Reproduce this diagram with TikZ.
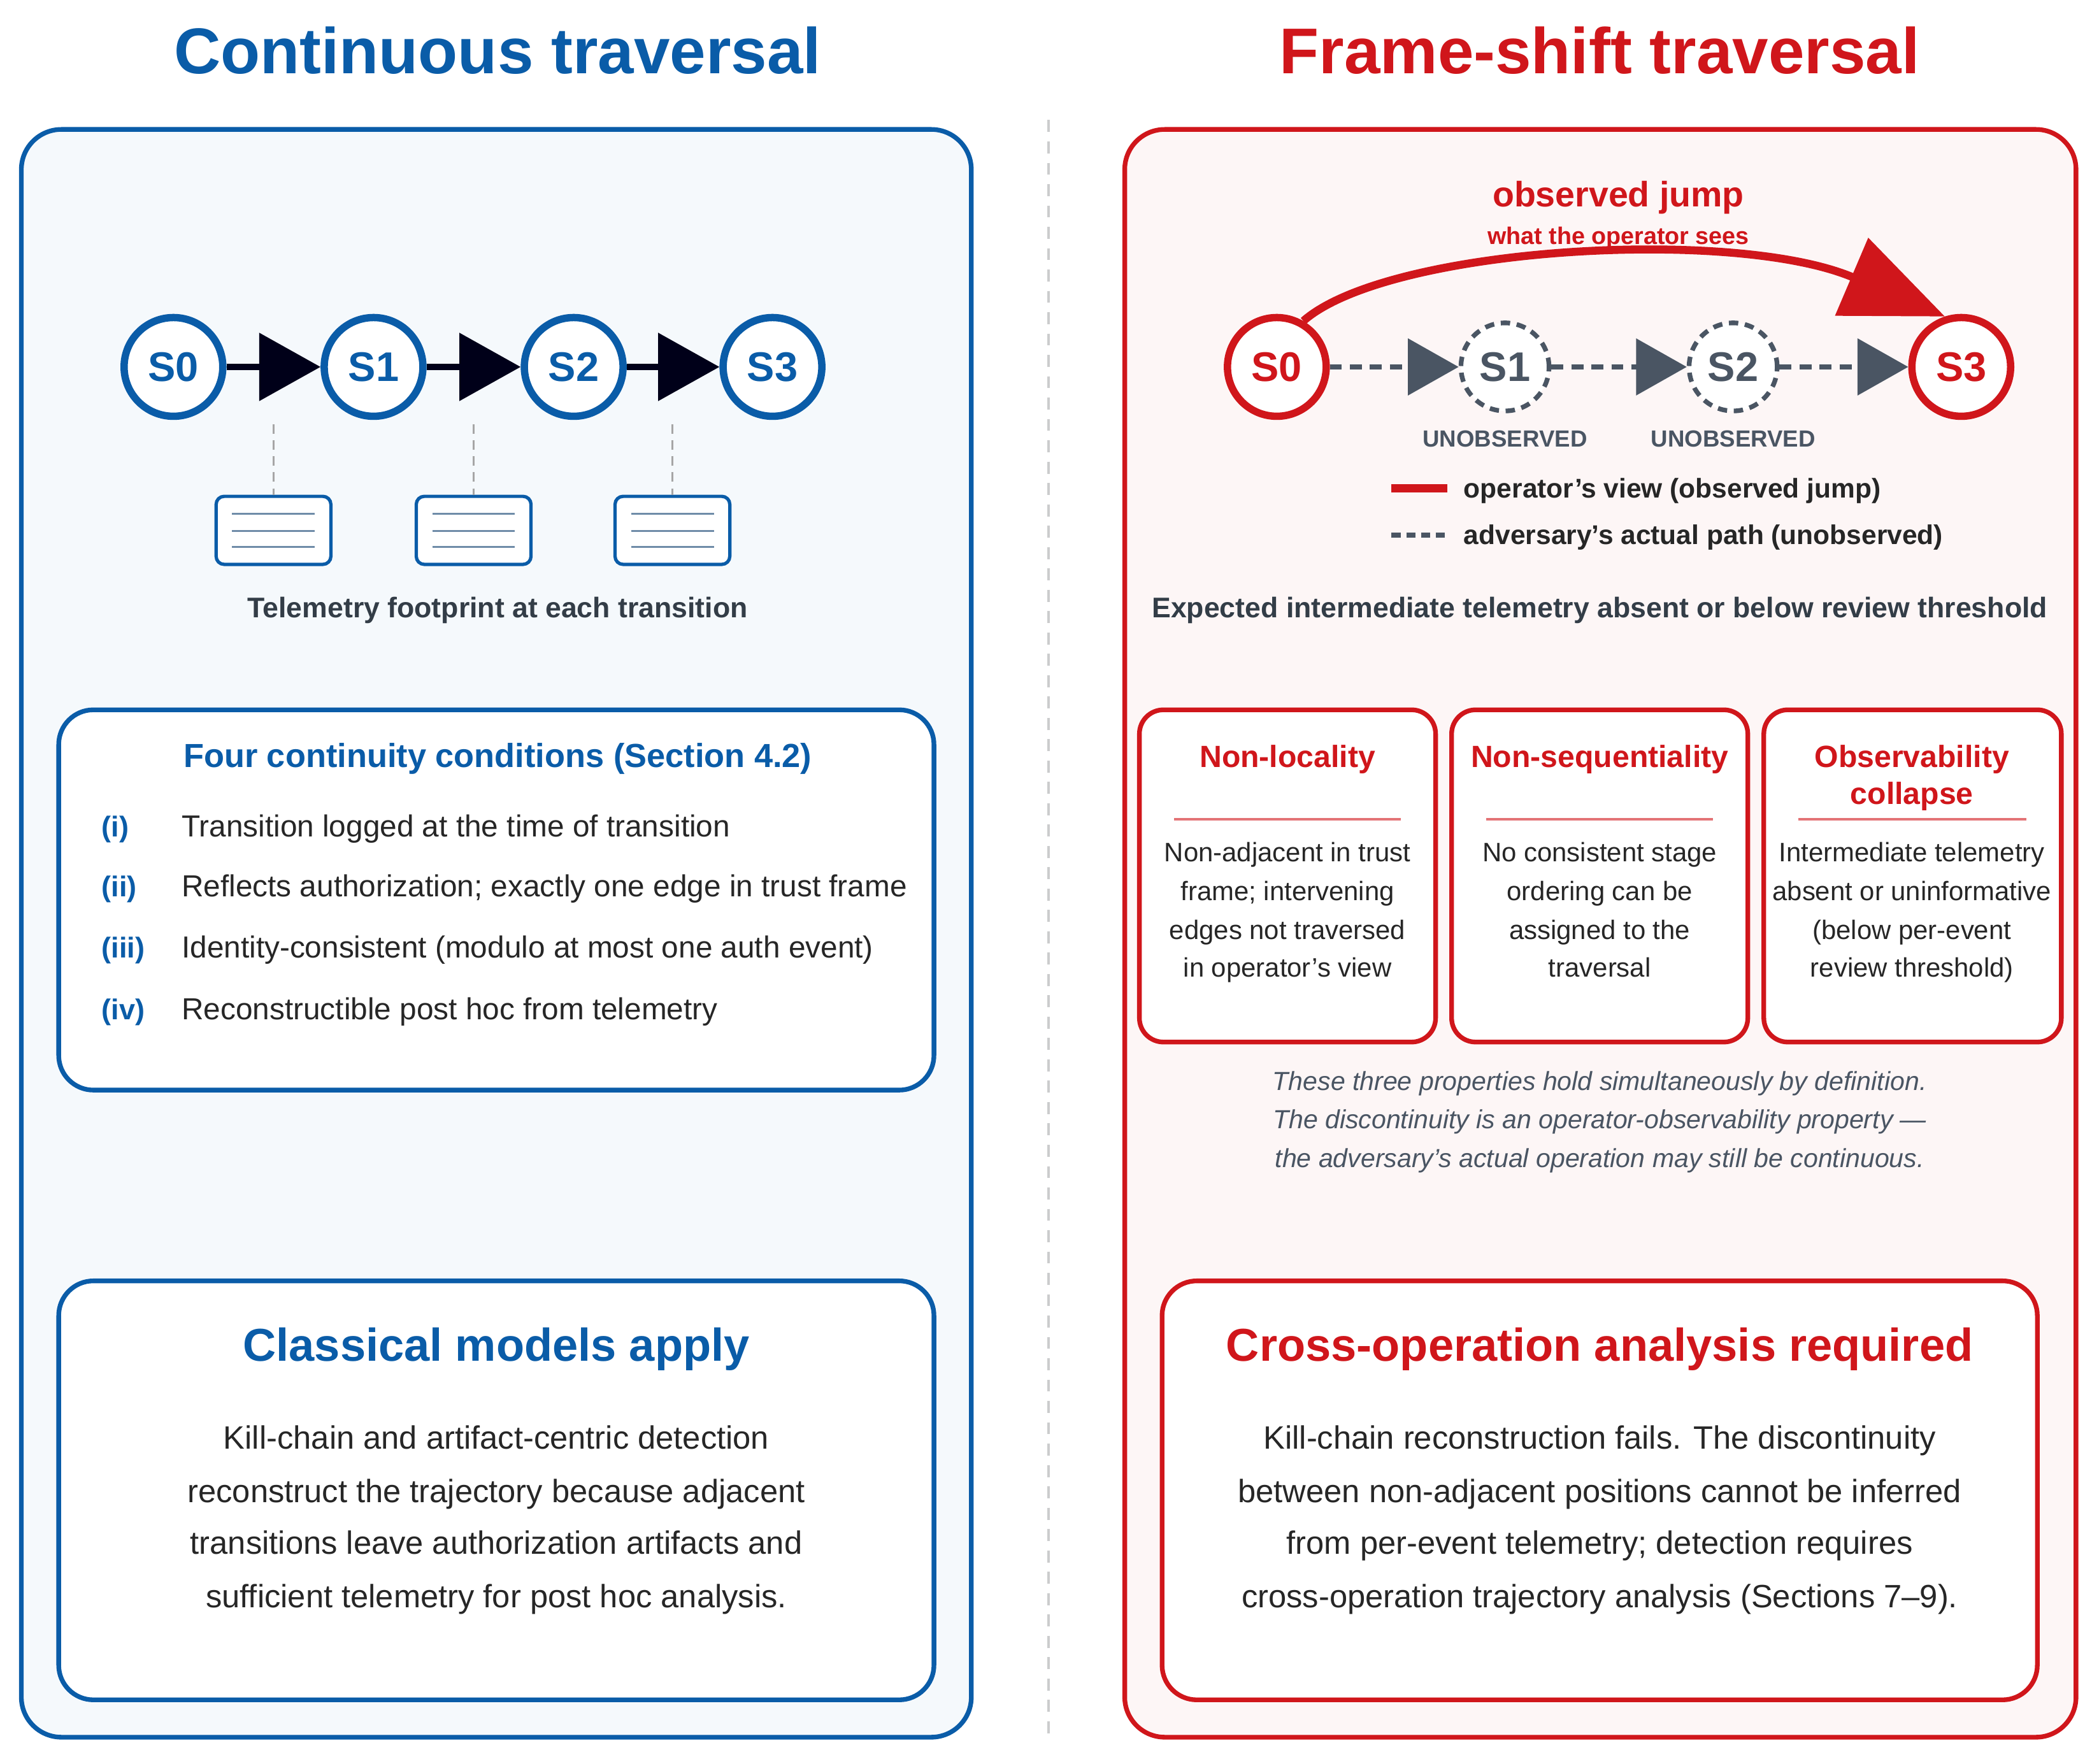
\documentclass[tikz,border=0pt]{standalone}
\usepackage{fontspec}
\setmainfont{Liberation Sans}
\usetikzlibrary{arrows.meta}
\definecolor{cblue}{HTML}{0A5CA8}
\definecolor{cred}{HTML}{D0161B}
\definecolor{dgray}{HTML}{333D47}
\definecolor{sgray}{HTML}{4A5563}
\definecolor{lblue}{HTML}{F5F9FC}
\definecolor{lred}{HTML}{FDF6F6}
\newcommand{\fs}[1]{\fontsize{#1}{#1}\selectfont}
\tikzset{
 bnode/.style={circle,draw=cblue,line width=5.5pt,fill=white,minimum size=74pt,inner sep=0,text=cblue,font=\fs{31}\bfseries},
 rnode/.style={circle,draw=cred,line width=5.5pt,fill=white,minimum size=74pt,inner sep=0,text=cred,font=\fs{31}\bfseries},
 gnode/.style={circle,draw=sgray,line width=3.5pt,dash pattern=on 7pt off 5pt,fill=white,minimum size=66pt,inner sep=0,text=sgray,font=\fs{31}\bfseries},
 barrow/.style={line width=5pt,draw=black!90!blue,-{Triangle[length=46pt,width=50pt]}},
 garrow/.style={line width=3.5pt,draw=sgray,dash pattern=on 9pt off 6pt,-{Triangle[length=38pt,width=42pt]}},
 tbox/.style={draw=cblue,line width=2.5pt,rounded corners=6pt,fill=white},
 bigbox/.style={line width=3.5pt,rounded corners=26pt,fill=white},
 card/.style={draw=cred,line width=3.5pt,rounded corners=18pt,fill=white},
 lbl/.style={inner sep=0,anchor=base},
}
\begin{document}
\begin{tikzpicture}[x=1pt,y=-1pt]
\useasboundingbox[fill=white] (0,0) rectangle (1568,1322);
% panels
\draw[cblue,line width=3.5pt,fill=lblue,rounded corners=30pt] (16,97) rectangle (728,1302);
\draw[cred,line width=3.5pt,fill=lred,rounded corners=30pt] (843,97) rectangle (1556,1302);
\draw[black!20!lblue!60!gray!60,line width=2pt,dash pattern=on 9pt off 7pt] (786,90) -- (786,1302);
% titles
\node[lbl,text=cblue,font=\fs{48.5}\bfseries] (t1) at (373,55) {Continuous traversal};
\node[lbl,text=cred,font=\fs{48.5}\bfseries] (t2) at (1199,55) {Frame-shift traversal};
% left nodes
\node[bnode] (a0) at (130,275) {S0};
\node[bnode] (a1) at (280,275) {S1};
\node[bnode] (a2) at (430,275) {S2};
\node[bnode] (a3) at (579,275) {S3};
\draw[barrow] (a0) -- (a1);
\draw[barrow] (a1) -- (a2);
\draw[barrow] (a2) -- (a3);
\foreach \x/\n in {205/p1,355/p2,504/p3}{
 \coordinate (\n top) at (\x,318);
 \node[tbox,minimum width=86pt,minimum height=51pt] (\n) at (\x,397.5) {};
 \draw[gray!70,line width=1.5pt,dash pattern=on 7pt off 5pt] (\n top) -- (\n.north);
 \foreach \yy in {385,398,410}{\draw[cblue!45!gray!80,line width=1.5pt] (\x-31,\yy) -- (\x+31,\yy);}
}
\node[lbl,text=dgray,font=\fs{21.3}\bfseries] (tf) at (373,463) {Telemetry footprint at each transition};
% conditions box
\draw[bigbox,draw=cblue] (44,532) rectangle (700,817);
\node[lbl,text=cblue,font=\fs{25}\bfseries] (ch) at (373,575) {Four continuity conditions (Section 4.2)};
\foreach \y/\r/\t in {619/(i)/Transition logged at the time of transition,
 664/(ii)/Reflects authorization; exactly one edge in trust frame,
 710/(iii)/Identity-consistent (modulo at most one auth event),
 756/(iv)/Reconstructible post hoc from telemetry}{
 \node[lbl,anchor=base west,text=cblue,font=\fs{21.5}\bfseries] at (76,\y+8) {\r};
 \node[lbl,anchor=base west,text=black!85,font=\fs{22.8}] at (136,\y+8) {\t};
}
% classical box
\draw[bigbox,draw=cblue] (44,960) rectangle (700,1274);
\node[lbl,text=cblue,font=\fs{34.5}\bfseries] (cl) at (372,1020) {Classical models apply};
\foreach \y/\t in {1078/Kill-chain and artifact-centric detection,1118/reconstruct the trajectory because adjacent,1157/transitions leave authorization artifacts and,1197/sufficient telemetry for post hoc analysis.}{
 \node[lbl,text=black!85,font=\fs{24.2}] at (372,\y+8) {\t};}
% right nodes
\node[rnode] (b0) at (957,275) {S0};
\node[gnode] (b1) at (1128,275) {S1};
\node[gnode] (b2) at (1299,275) {S2};
\node[rnode] (b3) at (1470,275) {S3};
\draw[garrow] (b0) -- (b1);
\draw[garrow] (b1) -- (b2);
\draw[garrow] (b2) -- (b3);
\draw[cred,line width=6pt,-{Triangle[length=76pt,width=62pt]}] (b0.60) .. controls (1040,185) and (1300,170) .. (b3.108);
\node[lbl,text=cred,font=\fs{26.5}\bfseries] (oj) at (1213,155) {observed jump};
\node[lbl,text=cred,font=\fs{18}\bfseries] (ws) at (1213,183) {what the operator sees};
\node[lbl,text=sgray,font=\fs{17.5}\bfseries] at (1128,335) {UNOBSERVED};
\node[lbl,text=sgray,font=\fs{17.5}\bfseries] at (1299,335) {UNOBSERVED};
\coordinate (l1a) at (1043,366); \coordinate (l1b) at (1085,366);
\coordinate (l2a) at (1043,401); \coordinate (l2b) at (1085,401);
\draw[cred,line width=6pt] (l1a) -- (l1b);
\draw[sgray,line width=4pt,dash pattern=on 7pt off 4pt] (l2a) -- (l2b);
\node[lbl,anchor=base west,text=black!85,font=\fs{20.3}\bfseries] at (1097,373) {operator’s view (observed jump)};
\node[lbl,anchor=base west,text=black!85,font=\fs{20.3}\bfseries] at (1097,408) {adversary’s actual path (unobserved)};
\node[lbl,text=dgray,font=\fs{21.3}\bfseries] at (1199,463) {Expected intermediate telemetry absent or below review threshold};
% cards
\foreach \xa/\xb/\n in {854/1076/c1,1088/1310/c2,1322/1545/c3}{
 \draw[card] (\xa,532) rectangle (\xb,781);
 \draw[cred!60,line width=1.5pt] (\xa+26,614) -- (\xb-26,614);
}
\node[lbl,text=cred,font=\fs{23}\bfseries] at (965,575) {Non-locality};
\node[lbl,text=cred,font=\fs{23}\bfseries] at (1199,575) {Non-sequentiality};
\node[lbl,text=cred,font=\fs{23}\bfseries] at (1433,575) {Observability};
\node[lbl,text=cred,font=\fs{23}\bfseries] at (1433,603) {collapse};
\foreach \x/\a/\b/\c/\d in {965/Non-adjacent in trust/frame; intervening/edges not traversed/in operator’s view,
 1199/No consistent stage/ordering can be/assigned to the/traversal,
 1433/Intermediate telemetry/absent or uninformative/(below per-event/review threshold)}{
 \node[lbl,text=black!85,font=\fs{20}] at (\x,646) {\a};
 \node[lbl,text=black!85,font=\fs{20}] at (\x,675) {\b};
 \node[lbl,text=black!85,font=\fs{20}] at (\x,704) {\c};
 \node[lbl,text=black!85,font=\fs{20}] at (\x,732) {\d};
}
\node[lbl,text=sgray,font=\fs{19.6}\itshape] at (1199,817) {These three properties hold simultaneously by definition.};
\node[lbl,text=sgray,font=\fs{19.6}\itshape] at (1199,846) {The discontinuity is an operator-observability property —};
\node[lbl,text=sgray,font=\fs{19.6}\itshape] at (1199,875) {the adversary’s actual operation may still be continuous.};
% cross-op box
\draw[bigbox,draw=cred] (871,960) rectangle (1527,1274);
\node[lbl,text=cred,font=\fs{34.5}\bfseries] at (1199,1020) {Cross-operation analysis required};
\foreach \y/\t in {1078/Kill-chain reconstruction fails. The discontinuity,1118/between non-adjacent positions cannot be inferred,1157/from per-event telemetry; detection requires,1197/cross-operation trajectory analysis (Sections 7–9).}{
 \node[lbl,text=black!85,font=\fs{24.2}] at (1199,\y+8) {\t};}
\end{tikzpicture}
\end{document}
